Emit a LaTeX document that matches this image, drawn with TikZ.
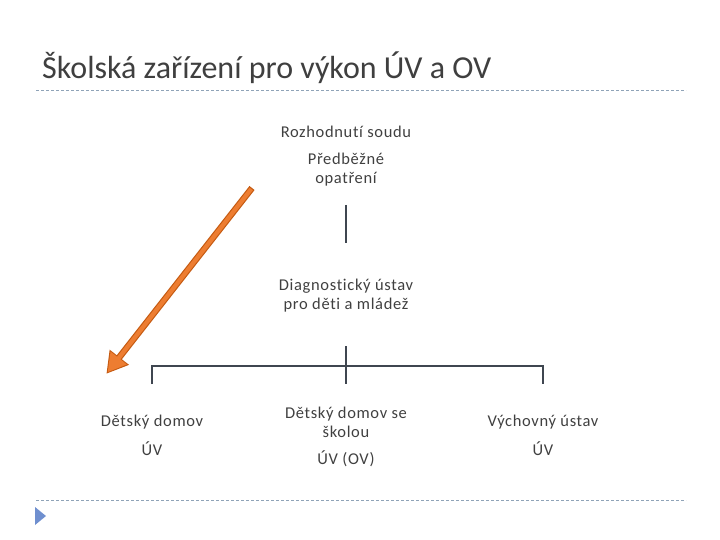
\documentclass[tikz,border=0pt]{standalone}
\usepackage{fontspec}
\setmainfont[Ligatures=CommonOff]{Carlito}
\newfontfamily\lblfont[LetterSpace=4,Ligatures=CommonOff]{Carlito}
\usetikzlibrary{arrows.meta}
\definecolor{txt}{HTML}{404040}
\definecolor{ttl}{HTML}{3F3F3F}
\definecolor{rule}{HTML}{8FA3B8}
\definecolor{conn}{HTML}{3F4650}
\definecolor{orng}{HTML}{ED7D31}
\definecolor{orngd}{HTML}{C55A11}
\definecolor{bullet}{HTML}{6F8FCF}
\tikzset{
  lbl/.style={text=txt, font=\lblfont\fontsize{16.5}{19}\selectfont, align=center, inner sep=0pt, anchor=center},
  conline/.style={draw=conn, line width=2.4pt},
  rulestyle/.style={draw=rule, line width=0.8pt, dash pattern=on 3pt off 2pt}
}
\begin{document}
\begin{tikzpicture}[x=1pt,y=-1pt]
\useasboundingbox (0,0) rectangle (720,540);
% title
\node[anchor=base west, inner sep=0pt, text=ttl, font=\fontsize{32}{36}\selectfont] (title) at (42,79) {Školská zařízení pro výkon ÚV a OV};
\draw[rulestyle] (36,90) -- (686,90);
\draw[rulestyle] (36,500) -- (686,500);
\fill[bullet] (35,507) -- (46,516) -- (35,525) -- cycle;
% texts
\node[lbl] (soud) at (346,132) {Rozhodnutí soudu};
\node[lbl] (pred) at (346,169.5) {Předběžné\\opatření};
\node[lbl] (diag) at (346,296) {Diagnostický ústav\\pro děti a mládež};
\node[lbl] (dd) at (152,422) {Dětský domov};
\node[lbl] (dduv) at (152,449) {ÚV};
\node[lbl] (dds) at (346,422.5) {Dětský domov se\\školou};
\node[lbl] (ddsuv) at (346,459) {ÚV (OV)};
\node[lbl] (vu) at (543,422) {Výchovný ústav};
\node[lbl] (vuuv) at (543,449) {ÚV};
% connectors
\coordinate (t1) at (346,205);
\coordinate (t2) at (346,243);
\draw[conline] (t1) -- (t2);
\coordinate (hl) at (152,366);
\coordinate (hr) at (543,366);
\coordinate (hm) at (346,366);
\coordinate (ht) at (346,346);
\draw[conline] (152,384) -- (hl) -- (hr) -- (543,384);
\draw[conline] (ht) -- (346,384);
% orange arrow
\coordinate (a1) at (252,188);
\coordinate (a2) at (107,373);
\draw[draw=orngd, line width=6.5pt, -{Triangle[length=21pt,width=23pt]}, shorten >=-1pt] (a1) -- (a2);
\draw[draw=orng, line width=4.2pt, -{Triangle[length=18pt,width=19.5pt]}, shorten <=1.2pt, shorten >=1pt] (a1) -- (a2);
\end{tikzpicture}
\end{document}
